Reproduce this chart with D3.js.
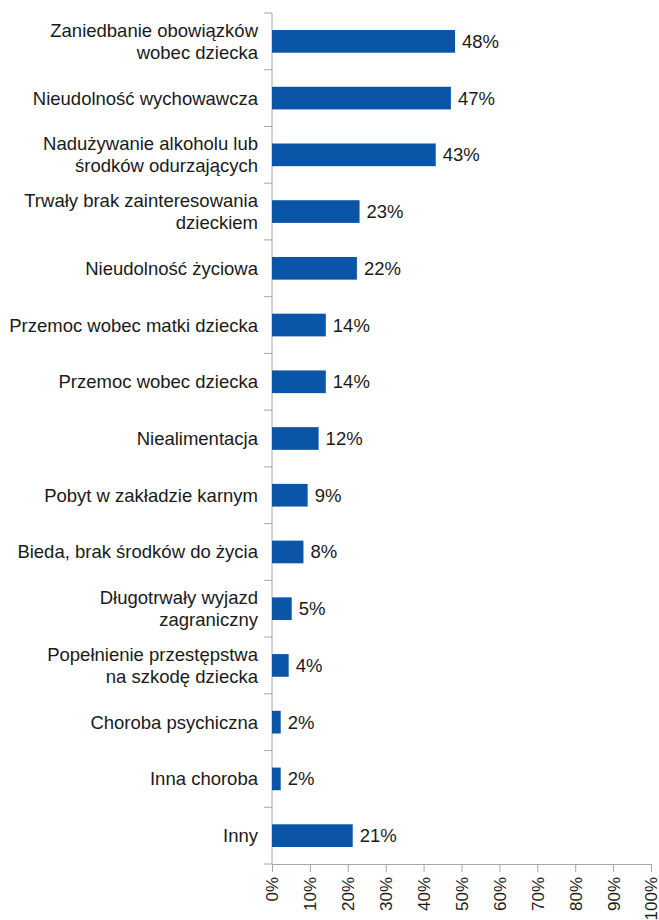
<!DOCTYPE html>
<html>
<head>
<meta charset="utf-8">
<script src="https://cdn.jsdelivr.net/npm/d3@7"></script>
<style>
  body { margin: 0; background: #fff; }
  text { font-family: "Liberation Sans", Arial, sans-serif; fill: #1a1a1a; }
</style>
</head>
<body>
<div id="chart"></div>
<script>
// categories, top to bottom (\n = line break as in the original)
let categories = [
    "Zaniedbanie obowiązków\nwobec dziecka",
    "Nieudolność wychowawcza",
    "Nadużywanie alkoholu lub\nśrodków odurzających",
    "Trwały brak zainteresowania\ndzieckiem",
    "Nieudolność życiowa",
    "Przemoc wobec matki dziecka",
    "Przemoc wobec dziecka",
    "Niealimentacja",
    "Pobyt w zakładzie karnym",
    "Bieda, brak środków do życia",
    "Długotrwały wyjazd\nzagraniczny",
    "Popełnienie przestępstwa\nna szkodę dziecka",
    "Choroba psychiczna",
    "Inna choroba",
    "Inny"
];
let values = [48.3, 47.2, 43.2, 23.1, 22.4, 14.2, 14.2, 12.3, 9.4, 8.3, 5.2, 4.4, 2.3, 2.3, 21.3];
let valueLabels = ["48%", "47%", "43%", "23%", "22%", "14%", "14%", "12%", "9%", "8%", "5%", "4%", "2%", "2%", "21%"];
let xTicks = [0, 10, 20, 30, 40, 50, 60, 70, 80, 90, 100];

let width = 659;
let height = 920;
let plotLeft = 272;
let plotRight = 651;
let plotTop = 13;
let plotBottom = 864;

let svg = d3.select("#chart")
    .append("svg")
    .attr("width", width)
    .attr("height", height);

let xScale = d3.scaleLinear().domain([0, 100]).range([plotLeft, plotRight]);
let yScale = d3.scaleBand().domain(categories).range([plotTop, plotBottom]).paddingInner(0.6).paddingOuter(0.3);

let axisColor = "#a6a6a6";

// x axis
let xAxis = d3.axisBottom(xScale).tickValues(xTicks).tickSize(8).tickFormat(d => d + "%");
let gx = svg.append("g").attr("transform", `translate(0, ${plotBottom})`).call(xAxis);
gx.select(".domain").attr("stroke", axisColor);
gx.selectAll(".tick line").attr("stroke", axisColor);
gx.selectAll(".tick text")
    .attr("font-size", 17)
    .attr("transform", "rotate(-90)")
    .attr("text-anchor", "end")
    .attr("x", -13)
    .attr("y", 0)
    .attr("dy", "0.35em");

// y axis (ticks between categories)
let bandStep = (plotBottom - plotTop) / categories.length;
let yAxisG = svg.append("g");
yAxisG.append("line")
    .attr("x1", plotLeft).attr("x2", plotLeft)
    .attr("y1", plotTop).attr("y2", plotBottom)
    .attr("stroke", axisColor);
yAxisG.selectAll(".ytick")
    .data(d3.range(categories.length + 1))
    .enter()
    .append("line")
    .attr("x1", plotLeft - 8).attr("x2", plotLeft)
    .attr("y1", d => plotTop + d * bandStep)
    .attr("y2", d => plotTop + d * bandStep)
    .attr("stroke", axisColor);

// category labels
let lineH = 21.7;
let catLabels = svg.selectAll(".cat")
    .data(categories)
    .enter()
    .append("text")
    .attr("class", "cat")
    .attr("text-anchor", "end")
    .attr("font-size", 18.5)
    .attr("transform", d => `translate(${plotLeft - 14}, ${yScale(d) + yScale.bandwidth() / 2})`);

catLabels.each(function(d){
    let lines = d.split("\n");
    let t = d3.select(this);
    lines.forEach(function(line, i){
        t.append("tspan")
            .attr("x", 0)
            .attr("y", (i - (lines.length - 1) / 2) * lineH)
            .attr("dy", "0.35em")
            .text(line);
    });
});

// bars
svg.selectAll(".bar")
    .data(values)
    .enter()
    .append("rect")
    .attr("class", "bar")
    .attr("x", xScale(0))
    .attr("y", (d, i) => yScale(categories[i]))
    .attr("width", d => xScale(d) - xScale(0))
    .attr("height", yScale.bandwidth())
    .attr("fill", "#0b55a8");

// value labels
svg.selectAll(".val")
    .data(values)
    .enter()
    .append("text")
    .attr("class", "val")
    .attr("x", d => xScale(d) + 7)
    .attr("y", (d, i) => yScale(categories[i]) + yScale.bandwidth() / 2)
    .attr("dy", "0.35em")
    .attr("font-size", 18.5)
    .text((d, i) => valueLabels[i]);
</script>
</body>
</html>
